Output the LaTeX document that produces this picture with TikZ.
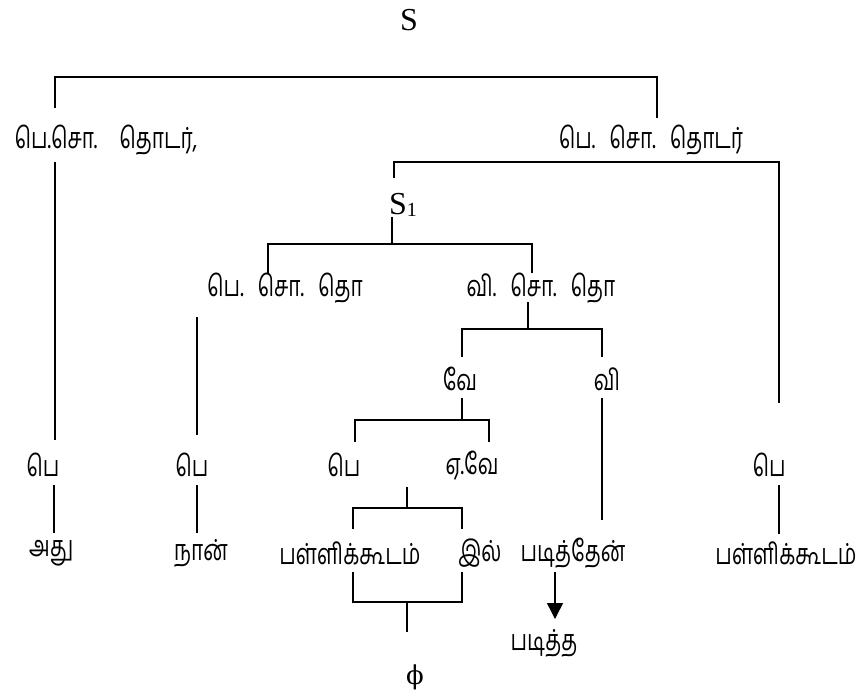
\documentclass[tikz,border=0pt]{standalone}
\usepackage{fontspec}
\setmainfont{Liberation Serif}
\newfontfamily\tamil[Script=Tamil,FakeStretch=0.72]{Hind Madurai}
\newfontfamily\dvserif{DejaVu Serif}
\usetikzlibrary{arrows.meta}
\newcommand{\gapA}{\hspace{14pt}}
\newcommand{\gapB}{\hspace{22pt}}
\tikzset{
  tm/.style={font=\tamil\fontsize{29}{32}\selectfont, inner sep=0pt},
  lat/.style={font=\fontsize{32}{34}\selectfont, inner sep=0pt},
  ln/.style={line width=1.4pt},
  arr/.style={line width=1.4pt, -{Triangle[width=16pt,length=16pt]}},
}
\begin{document}
\begin{tikzpicture}[x=1pt,y=-1pt]
\useasboundingbox (0,0) rectangle (861,691);
% nodes
\node[lat] (S) at (409,20) {S};
\node[tm] (np1) at (106,140) {பெ.சொ.\gapB தொடர்,};
\node[tm] (np2) at (651,140) {பெ.\gapA சொ.\gapA தொடர்};
\node[lat] (S1) at (403,205) {S\raisebox{-2pt}{\fontsize{20}{20}\selectfont 1}};
\node[tm] (np3) at (285,288) {பெ.\gapA சொ.\gapA தொ};
\node[tm] (vp) at (541,288) {வி.\gapA சொ.\gapA தொ};
\node[tm] (ve) at (460,379) {வே};
\node[tm] (vi) at (607,379) {வி};
\node[tm] (pe1) at (43,465) {பெ};
\node[tm] (pe2) at (192,465) {பெ};
\node[tm] (pe3) at (344,465) {பெ};
\node[tm] (ev) at (472,465) {ஏ.வே};
\node[tm] (pe4) at (769,465) {பெ};
\node[tm] (w1) at (51,553) {அது};
\node[tm] (w2) at (201,553) {நான்};
\node[tm] (w3) at (350,553) {பள்ளிக்கூடம்};
\node[tm] (w4) at (480,553) {இல்};
\node[tm] (w5) at (573,553) {படித்தேன்};
\node[tm] (w6) at (786,553) {பள்ளிக்கூடம்};
\node[tm] (padi) at (544,643) {படித்த};
\node[font=\dvserif\fontsize{26}{28}\selectfont, inner sep=0pt] (phi) at (415,677) {ϕ};
% coordinates
\coordinate (a1) at (55,108); \coordinate (a2) at (55,77);
\coordinate (a3) at (657,77); \coordinate (a4) at (657,118);
\coordinate (b1) at (55,162); \coordinate (b2) at (55,440);
\coordinate (c1) at (394,178); \coordinate (c2) at (394,162);
\coordinate (c3) at (779,162); \coordinate (c4) at (779,403);
\coordinate (d1) at (392,217); \coordinate (d2) at (392,244);
\coordinate (d3) at (268,273); \coordinate (d4) at (268,244);
\coordinate (d5) at (532,244); \coordinate (d6) at (532,273);
\coordinate (e1) at (197,317); \coordinate (e2) at (197,435);
\coordinate (f1) at (528,302); \coordinate (f2) at (528,329);
\coordinate (f3) at (462,357); \coordinate (f4) at (462,329);
\coordinate (f5) at (602,329); \coordinate (f6) at (602,357);
\coordinate (g1) at (462,398); \coordinate (g2) at (462,420);
\coordinate (g3) at (355,442); \coordinate (g4) at (355,420);
\coordinate (g5) at (489,420); \coordinate (g6) at (489,442);
\coordinate (h1) at (602,398); \coordinate (h2) at (602,520);
\coordinate (i1) at (54,485); \coordinate (i2) at (54,533);
\coordinate (i3) at (197,485); \coordinate (i4) at (197,533);
\coordinate (i5) at (779,485); \coordinate (i6) at (779,534);
\coordinate (j1) at (407,487); \coordinate (j2) at (407,508);
\coordinate (j3) at (353,529); \coordinate (j4) at (353,508);
\coordinate (j5) at (462,508); \coordinate (j6) at (462,529);
\coordinate (k1) at (353,572); \coordinate (k2) at (353,602);
\coordinate (k3) at (462,602); \coordinate (k4) at (462,572);
\coordinate (k5) at (407,602); \coordinate (k6) at (407,632);
\coordinate (m1) at (555,572); \coordinate (m2) at (555,619);
% lines
\draw[ln] (a1) -- (a2) -- (a3) -- (a4);
\draw[ln] (b1) -- (b2);
\draw[ln] (c1) -- (c2) -- (c3) -- (c4);
\draw[ln] (d1) -- (d2);
\draw[ln] (d3) -- (d4) -- (d5) -- (d6);
\draw[ln] (e1) -- (e2);
\draw[ln] (f1) -- (f2);
\draw[ln] (f3) -- (f4) -- (f5) -- (f6);
\draw[ln] (g1) -- (g2);
\draw[ln] (g3) -- (g4) -- (g5) -- (g6);
\draw[ln] (h1) -- (h2);
\draw[ln] (i1) -- (i2);
\draw[ln] (i3) -- (i4);
\draw[ln] (i5) -- (i6);
\draw[ln] (j1) -- (j2);
\draw[ln] (j3) -- (j4) -- (j5) -- (j6);
\draw[ln] (k1) -- (k2) -- (k3) -- (k4);
\draw[ln] (k5) -- (k6);
\draw[arr] (m1) -- (m2);
\end{tikzpicture}
\end{document}
